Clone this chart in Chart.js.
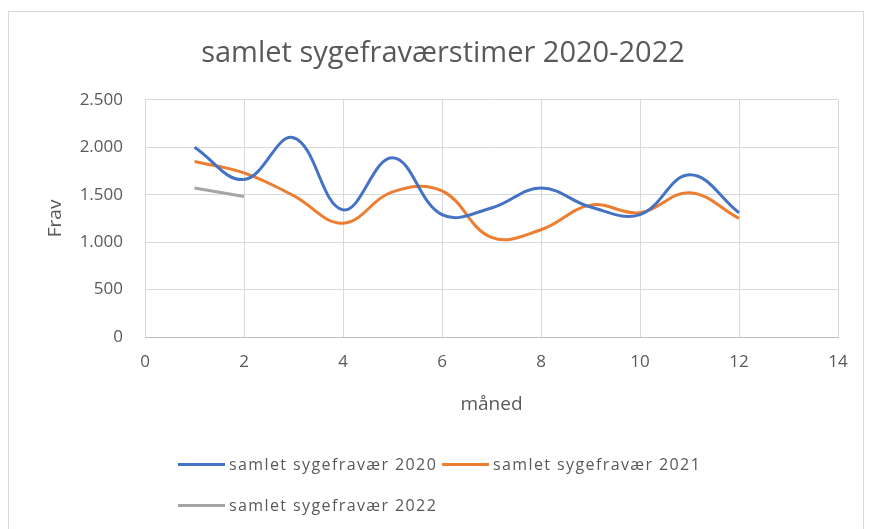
<!DOCTYPE html>
<html lang="da">
<head>
<meta charset="utf-8">
<title>samlet sygefraværstimer 2020-2022</title>
<script src="https://cdn.jsdelivr.net/npm/chart.js@4"></script>
<style>
    html, body { margin: 0; padding: 0; background: #fff; }
    body { width: 869px; height: 529px; position: relative; overflow: hidden; font-family: "Open Sans", sans-serif; }
    #frame { position: absolute; left: 8px; top: 11px; width: 856px; height: 530px; border: 1px solid #d9d9d9; box-sizing: border-box; }
    #wrap { position: absolute; left: 0; top: 0; width: 869px; height: 529px; }
    .legend-item { position: absolute; display: flex; align-items: center; font-size: 16px; letter-spacing: 1.4px; color: #595959; white-space: nowrap; line-height: 22px; }
    .legend-line { display: inline-block; width: 47px; height: 3px; margin-right: 4px; }
</style>
</head>
<body>
<div id="frame"></div>
<div id="wrap"><canvas id="chart" width="869" height="529"></canvas></div>
<div id="legend"></div>

<script>
// months on the x axis
const months = [1, 2, 3, 4, 5, 6, 7, 8, 9, 10, 11, 12];

// sick leave hours per month
const fravaer2020 = [2000, 1660, 2100, 1340, 1890, 1290, 1360, 1570, 1370, 1290, 1710, 1310];
const fravaer2021 = [1850, 1730, 1490, 1200, 1530, 1540, 1050, 1130, 1390, 1310, 1520, 1250];
const fravaer2022 = [1570, 1480];

const seriesLabels = ['samlet sygefravær 2020', 'samlet sygefravær 2021', 'samlet sygefravær 2022'];
const seriesColors = ['#4472C4', '#ED7D31', '#A5A5A5'];

const textColor = '#595959';
const gridColor = '#d9d9d9';
const fontFamily = '"Open Sans", sans-serif';

// danish thousands separator
function formatDa(value) {
    return String(Math.round(value)).replace(/\B(?=(\d{3})+(?!\d))/g, '.');
}

function toPoints(values) {
    return values.map((v, i) => ({ x: months[i], y: v }));
}

const allSeries = [fravaer2020, fravaer2021, fravaer2022];

const ctx = document.getElementById('chart').getContext('2d');
const chart = new Chart(ctx, {
    type: 'scatter',
    data: {
        datasets: allSeries.map((values, i) => ({
            label: seriesLabels[i],
            data: toPoints(values),
            showLine: true,
            borderColor: seriesColors[i],
            backgroundColor: seriesColors[i],
            borderWidth: 3,
            pointRadius: 0,
            tension: 0.4
        }))
    },
    options: {
        responsive: false,
        animation: false,
        // left padding shifts the title centre to match excel's chart-area centring
        layout: { padding: { left: 48, top: 0, right: 31, bottom: 0 } },
        plugins: {
            legend: { display: false },
            tooltip: { enabled: false },
            title: {
                display: true,
                text: 'samlet sygefraværstimer 2020-2022',
                color: textColor,
                font: { family: fontFamily, size: 29, weight: 'normal' },
                padding: { top: 36, bottom: 29 }
            }
        },
        scales: {
            x: {
                type: 'linear',
                min: 0,
                max: 14,
                ticks: {
                    stepSize: 2,
                    color: textColor,
                    padding: 15,
                    font: { family: fontFamily, size: 17 }
                },
                grid: { color: gridColor, drawTicks: false },
                border: { color: '#bfbfbf' },
                title: {
                    display: true,
                    text: 'måned',
                    color: textColor,
                    font: { family: fontFamily, size: 19 },
                    padding: { top: 0, bottom: 113 }
                },
                afterFit: function(scale) { scale.height = 192; }
            },
            y: {
                min: 0,
                max: 2500,
                ticks: {
                    stepSize: 500,
                    color: textColor,
                    padding: 22,
                    font: { family: fontFamily, size: 17 },
                    callback: function(value) { return formatDa(value); }
                },
                grid: { color: gridColor, drawTicks: false },
                border: { display: false },
                title: {
                    display: true,
                    text: 'Frav',
                    color: textColor,
                    font: { family: fontFamily, size: 19 },
                    padding: { top: -4, bottom: 0 }
                },
                afterFit: function(scale) { scale.width = 97; }
            }
        }
    }
});

// legend in html, placed like the excel one (two rows, left aligned)
const legendSpots = [
    { left: 178, top: 453 },
    { left: 442, top: 453 },
    { left: 178, top: 494 }
];
const legendBox = document.getElementById('legend');
chart.data.datasets.forEach((ds, i) => {
    const item = document.createElement('div');
    item.className = 'legend-item';
    item.style.left = legendSpots[i].left + 'px';
    item.style.top = legendSpots[i].top + 'px';
    const line = document.createElement('span');
    line.className = 'legend-line';
    line.style.background = ds.borderColor;
    const label = document.createElement('span');
    label.textContent = ds.label;
    item.appendChild(line);
    item.appendChild(label);
    legendBox.appendChild(item);
});
</script>
</body>
</html>
